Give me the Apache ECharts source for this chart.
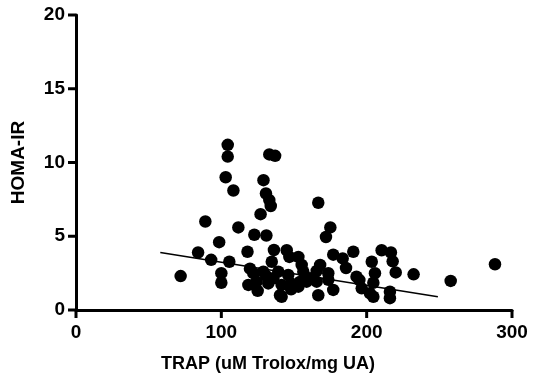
<!DOCTYPE html>
<html>
<head>
<meta charset="utf-8">
<script src="https://cdn.jsdelivr.net/npm/echarts@6/dist/echarts.min.js"></script>
<style>
html,body{margin:0;padding:0;background:#fff;}
#main{width:534px;height:385px;}
</style>
</head>
<body>
<div id="main"></div>
<script>
// TRAP (x) / HOMA-IR (y)
var trap = [72, 84, 89, 93, 98.5, 100, 100, 103, 104.4, 104.4,
	105.5, 108.3, 111.7, 118, 119.7, 118.6, 122.7, 122, 125, 124.3,
	127, 129, 130.7, 133, 134, 133, 137, 131, 128.9, 131,
	132.3, 134.7, 136.2, 135.8, 139.2, 140.4, 141.5, 141.5, 145, 146.8,
	146, 148, 148, 153, 155.3, 156.4, 154, 153, 158.7, 161,
	165.6, 165.6, 166.7, 166.7, 168, 172, 175, 173.6, 173.6, 177,
	177, 183.5, 185.8, 190.8, 193, 195, 196.6, 202.3, 204.6, 203.5,
	205.7, 204.6, 210.3, 216.7, 217.9, 220, 216, 216, 232.3, 257.8,
	288.3];
var homa = [2.3, 3.9, 6.0, 3.4, 4.6, 2.5, 1.85, 9.0, 11.2, 10.4,
	3.27, 8.1, 5.6, 3.95, 2.8, 1.7, 5.1, 2.5, 1.3, 1.92,
	6.5, 8.8, 7.9, 7.45, 7.05, 10.55, 10.45, 5.05, 2.6, 2.3,
	1.8, 3.27, 4.07, 2.15, 2.6, 1.0, 1.7, 0.9, 4.05, 3.6,
	2.37, 1.8, 1.4, 3.6, 3.05, 2.6, 1.9, 1.58, 1.92, 2.15,
	2.65, 1.92, 1.0, 7.27, 3.05, 4.95, 5.6, 2.5, 2.05, 3.75,
	1.36, 3.5, 2.85, 3.95, 2.26, 2.03, 1.47, 1.13, 0.9, 3.27,
	2.5, 1.85, 4.05, 3.9, 3.3, 2.55, 1.24, 0.8, 2.42, 1.97,
	3.1];
// regression line end points
var fitX = [58, 249];
var fitY = [3.9, 0.9];
// tick values
var xTicks = [0, 100, 200, 300];
var yTicks = [0, 5, 10, 15, 20];

var font = "'Liberation Sans', Arial, sans-serif";

var points = [];
for (var i = 0; i < trap.length; i++) {
	points.push([trap[i], homa[i]]);
}
var fitLine = [];
for (var j = 0; j < fitX.length; j++) {
	fitLine.push([fitX[j], fitY[j]]);
}
// outward axis ticks did not draw, so draw them as small rects on the axes
var xTickData = [];
for (var k = 0; k < xTicks.length; k++) {
	xTickData.push([xTicks[k], 0]);
}
var yTickData = [];
for (var m = 0; m < yTicks.length; m++) {
	yTickData.push([0, yTicks[m]]);
}

var myChart = echarts.init(document.getElementById('main'));
var option = {
	animation: false,
	backgroundColor: '#fff',
	grid: {left: 76, right: 22, top: 15, bottom: 75},
	xAxis: {
		type: 'value', min: 0, max: 300, interval: 100,
		axisLine: {show: true, onZero: false, lineStyle: {color: '#000', width: 3}},
		axisTick: {show: false},
		splitLine: {show: false},
		axisLabel: {color: '#000', fontSize: 19, fontWeight: 'bold', fontFamily: font, margin: 13},
		name: 'TRAP (uM Trolox/mg UA)', nameLocation: 'middle', nameGap: 45,
		nameTextStyle: {color: '#000', fontSize: 18, fontWeight: 'bold', fontFamily: font, padding: [0, 52, 0, 0]}
	},
	yAxis: {
		type: 'value', min: 0, max: 20, interval: 5,
		axisLine: {show: true, onZero: false, lineStyle: {color: '#000', width: 3}},
		axisTick: {show: false},
		splitLine: {show: false},
		axisLabel: {color: '#000', fontSize: 19, fontWeight: 'bold', fontFamily: font, margin: 11},
		name: 'HOMA-IR', nameLocation: 'middle', nameGap: 48,
		nameTextStyle: {color: '#000', fontSize: 19, fontWeight: 'bold', fontFamily: font}
	},
	series: [
		{type: 'scatter', data: points, symbol: 'circle', symbolSize: 12.5,
			itemStyle: {color: '#000', opacity: 1}},
		{type: 'line', data: fitLine, symbol: 'none',
			lineStyle: {color: '#000', width: 1.5}},
		{type: 'scatter', data: xTickData, symbol: 'rect', symbolSize: [3, 8],
			symbolOffset: [0, 4], clip: false, silent: true,
			itemStyle: {color: '#000', opacity: 1}},
		{type: 'scatter', data: yTickData, symbol: 'rect', symbolSize: [8, 3],
			symbolOffset: [-4, 0], clip: false, silent: true,
			itemStyle: {color: '#000', opacity: 1}}
	]
};
myChart.setOption(option);
</script>
</body>
</html>
